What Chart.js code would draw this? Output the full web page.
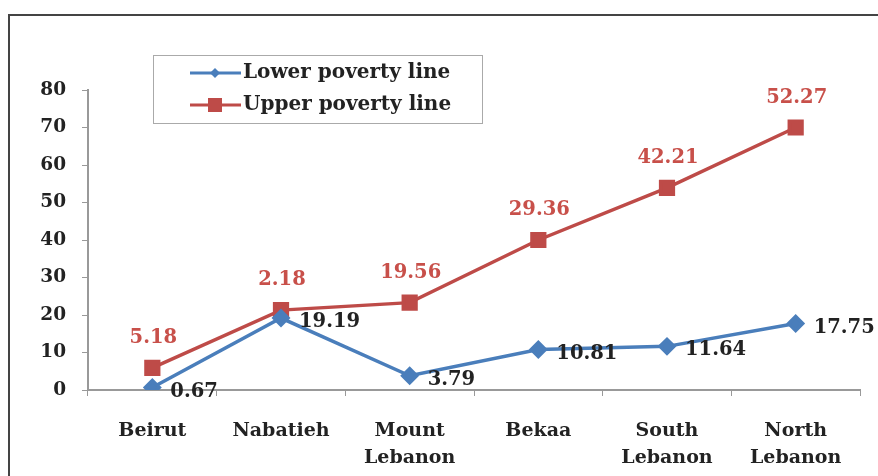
<!DOCTYPE html>
<html>
<head>
<meta charset="utf-8">
<script src="https://cdn.jsdelivr.net/npm/chart.js@4"></script>
<style>
    html, body { margin: 0; padding: 0; background: #fff; }
    #wrap { position: relative; width: 878px; height: 476px; }
    #frame { position: absolute; left: 8px; top: 14px; right: -2px; bottom: -2px; border-left: 2px solid #444; border-top: 2px solid #444; }
    canvas { position: absolute; left: 0; top: 0; }
</style>
</head>
<body>
<div id="wrap">
    <div id="frame"></div>
    <canvas id="lineChart" width="878" height="476"></canvas>
</div>
<script>
const regions = ['Beirut', 'Nabatieh', ['Mount', 'Lebanon'], 'Bekaa', ['South', 'Lebanon'], ['North', 'Lebanon']];
const lowerValues = [0.67, 19.19, 3.79, 10.81, 11.64, 17.75];
const upperValues = [5.9, 21.3, 23.3, 40, 53.9, 70];
// labels printed in the original figure (they do not all match the plotted points)
const lowerLabels = ['0.67', '19.19', '3.79', '10.81', '11.64', '17.75'];
const upperLabels = ['5.18', '2.18', '19.56', '29.36', '42.21', '52.27'];
const yTicks = [0, 10, 20, 30, 40, 50, 60, 70, 80];

const FONT = 'DejaVu Serif';
const blue = '#4a7ebb';
const red = '#be4b48';

const pointLabels = {
    id: 'pointLabels',
    afterDatasetsDraw(chart) {
        const ctx = chart.ctx;
        ctx.save();
        ctx.font = 'bold 19.5px "' + FONT + '"';
        ctx.textBaseline = 'middle';
        chart.getDatasetMeta(1).data.forEach((p, i) => {
            ctx.fillStyle = '#c8504a';
            ctx.textAlign = 'center';
            ctx.fillText(upperLabels[i], p.x + 1, p.y - 30);
        });
        chart.getDatasetMeta(0).data.forEach((p, i) => {
            ctx.fillStyle = '#222';
            ctx.textAlign = 'left';
            ctx.fillText(lowerLabels[i], p.x + 18, p.y + 4);
        });
        ctx.restore();
    }
};

const boxLegend = {
    id: 'boxLegend',
    afterDraw(chart) {
        const ctx = chart.ctx;
        ctx.save();
        ctx.strokeStyle = '#aaa';
        ctx.lineWidth = 1;
        ctx.strokeRect(153.5, 55.5, 329, 68);
        ctx.font = 'bold 20px "' + FONT + '"';
        ctx.textBaseline = 'middle';
        ctx.textAlign = 'left';
        chart.data.datasets.forEach((ds, i) => {
            const y = 73 + i * 32;
            ctx.strokeStyle = ds.borderColor;
            ctx.lineWidth = 3;
            ctx.beginPath();
            ctx.moveTo(190, y);
            ctx.lineTo(241, y);
            ctx.stroke();
            ctx.fillStyle = ds.pointBackgroundColor;
            if (i === 0) {
                ctx.beginPath();
                ctx.moveTo(215, y - 5);
                ctx.lineTo(220, y);
                ctx.lineTo(215, y + 5);
                ctx.lineTo(210, y);
                ctx.closePath();
                ctx.fill();
            } else {
                ctx.fillRect(208, y - 7, 14, 14);
            }
            ctx.fillStyle = '#222';
            ctx.fillText(ds.label, 243, y);
        });
        ctx.restore();
    }
};

const ctx = document.getElementById('lineChart').getContext('2d');
const chart = new Chart(ctx, {
    type: 'line',
    data: {
        labels: regions,
        datasets: [
            {
                label: 'Lower poverty line',
                data: lowerValues,
                borderColor: blue,
                backgroundColor: blue,
                pointBackgroundColor: blue,
                pointBorderColor: blue,
                pointStyle: 'rectRot',
                pointRadius: 7,
                borderWidth: 3.5,
                tension: 0
            },
            {
                label: 'Upper poverty line',
                data: upperValues,
                borderColor: red,
                backgroundColor: red,
                pointBackgroundColor: red,
                pointBorderColor: red,
                pointStyle: 'rect',
                pointRadius: 9,
                borderWidth: 3.5,
                tension: 0
            }
        ]
    },
    plugins: [pointLabels, boxLegend],
    options: {
        responsive: false,
        animation: false,
        layout: {
            padding: { top: 90, right: 18, left: 0, bottom: 0 }
        },
        plugins: {
            legend: { display: false },
            tooltip: { enabled: false }
        },
        scales: {
            x: {
                offset: true,
                afterFit: (scale) => { scale.height = 86; },
                grid: {
                    offset: true,
                    drawOnChartArea: false,
                    tickLength: 6,
                    color: '#999'
                },
                border: { color: '#999', width: 2 },
                ticks: {
                    color: '#222',
                    padding: 21,
                    maxRotation: 0,
                    font: { family: FONT, size: 19, weight: 'bold', lineHeight: 1.45 }
                }
            },
            y: {
                min: 0,
                max: 80,
                afterFit: (scale) => { scale.width = 88; },
                afterBuildTicks: (scale) => { scale.ticks = yTicks.map(v => ({ value: v })); },
                grid: {
                    drawOnChartArea: false,
                    tickLength: 6,
                    color: '#999'
                },
                border: { color: '#999', width: 2 },
                ticks: {
                    color: '#222',
                    padding: 16,
                    font: { family: FONT, size: 18.5, weight: 'bold' }
                }
            }
        }
    }
});
</script>
</body>
</html>
